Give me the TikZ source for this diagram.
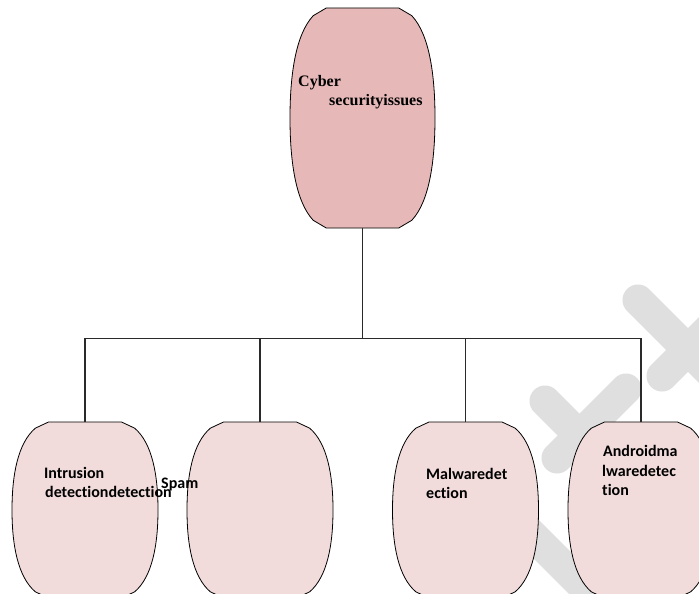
\documentclass[tikz,border=0pt]{standalone}
\usepackage{fontspec}
\setmainfont{Liberation Serif}
\newfontfamily\calfont[Ligatures={NoCommon}]{Carlito}
\definecolor{topfill}{HTML}{E6B9B8}
\definecolor{botfill}{HTML}{F2DCDB}
\definecolor{wmark}{HTML}{DFDFDF}
\definecolor{conn}{HTML}{2A2A2A}
\tikzset{
  blobline/.style={draw=black, line width=0.8pt},
  connector/.style={draw=conn, line width=1.2pt},
  wmbar/.style={draw=wmark, line width=31pt, line cap=round},
  sertext/.style={anchor=base west, inner sep=0pt, font=\fontsize{16}{19}\selectfont\bfseries},
  caltext/.style={anchor=base west, inner sep=0pt, font=\calfont\fontsize{16}{19}\selectfont\bfseries},
}
\newcommand{\blob}[6]{%
  \begin{scope}[shift={(#2,#3)}, x=#4pt, y=-#5pt]
    \filldraw[blobline, fill=#6] (-0.25,-0.5) -- (0.25,-0.5) -- (0.34,-0.465)
      .. controls (0.46,-0.38) and (0.5,-0.2) .. (0.5,0)
      .. controls (0.5,0.2) and (0.46,0.38) .. (0.34,0.465)
      -- (0.25,0.5) -- (-0.25,0.5) -- (-0.34,0.465)
      .. controls (-0.46,0.38) and (-0.5,0.2) .. (-0.5,0)
      .. controls (-0.5,-0.2) and (-0.46,-0.38) .. (-0.34,-0.465) -- cycle;
    \node[minimum width=#4pt, minimum height=#5pt, inner sep=0pt, outer sep=0pt] (#1) at (0,0) {};
  \end{scope}}
\begin{document}
\begin{tikzpicture}[x=1pt, y=-1pt]
  \clip (0,0) rectangle (699,594);
  \fill[white] (0,0) rectangle (699,594);
  % watermark
  \draw[wmbar] (638,300) -- (740,402);
  \draw[wmbar] (662,376) -- (740,298);
  \draw[wmbar] (545,401) -- (615,471);
  \draw[wmbar] (557,458) -- (626,389);
  \draw[wmbar] (518,521) -- (620,623);
  % shapes
  \blob{top}{362.5}{118}{145}{220}{topfill}
  \blob{intr}{85}{510}{146}{176}{botfill}
  \blob{spam}{260}{510}{146}{176}{botfill}
  \blob{malw}{465.5}{510}{146}{176}{botfill}
  \blob{andr}{641}{510}{146}{176}{botfill}
  % connectors
  \coordinate (bar) at (362.5,338.5);
  \draw[connector] (top.south) -- (bar);
  \draw[connector] (intr.north) |- (bar);
  \draw[connector] (spam.north) |- (bar);
  \draw[connector] (malw.north) |- (bar);
  \draw[connector] (andr.north) |- (bar);
  % texts
  \node[sertext] (t1) at (298,87) {Cyber};
  \node[sertext] (t2) at (329,106) {securityissues};
  \node[caltext] (i1) at (44,478) {Intrusion};
  \node[caltext] (i2) at (45,497) {detectiondetection};
  \node[caltext] (s1) at (161,488) {Spam};
  \node[caltext] (m1) at (426,479) {Malwaredet};
  \node[caltext] (m2) at (426,498) {ection};
  \node[caltext] (a1) at (603,456) {Androidma};
  \node[caltext] (a2) at (602,476) {lwaredetec};
  \node[caltext] (a3) at (602,495) {tion};
\end{tikzpicture}
\end{document}
